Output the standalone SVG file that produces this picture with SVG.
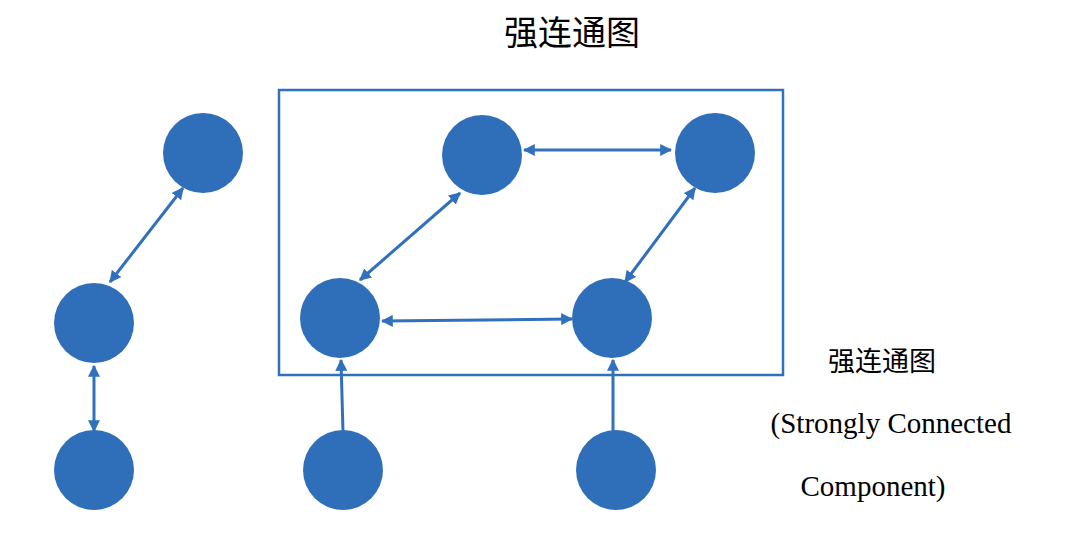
<svg xmlns="http://www.w3.org/2000/svg" width="1080" height="553" viewBox="0 0 1080 553">
<style>
.n{fill:#2f6fba}
.c{stroke:#3070bc;stroke-width:3;fill:none}
.t{font-family:"Liberation Serif","Noto Sans CJK SC",serif;fill:#000;text-anchor:middle}
</style>
<defs>
<marker id="ah" viewBox="0 0 10 10" refX="9" refY="5" markerWidth="4" markerHeight="4" orient="auto-start-reverse"><path d="M0,0L10,5L0,10z" fill="#3070bc"/></marker>
</defs>
<rect width="1080" height="553" fill="#fff"/>
<rect x="279" y="90" width="504" height="285" fill="none" stroke="#3070bc" stroke-width="2.5"/>
<g id="connectors">
<line class="c" x1="183" y1="188" x2="110" y2="282" marker-start="url(#ah)" marker-end="url(#ah)"/>
<line class="c" x1="94" y1="366" x2="94" y2="431" marker-start="url(#ah)" marker-end="url(#ah)"/>
<line class="c" x1="524" y1="150" x2="671" y2="150" marker-start="url(#ah)" marker-end="url(#ah)"/>
<line class="c" x1="460" y1="193" x2="360" y2="280" marker-start="url(#ah)" marker-end="url(#ah)"/>
<line class="c" x1="695" y1="188" x2="625" y2="282" marker-start="url(#ah)" marker-end="url(#ah)"/>
<line class="c" x1="382" y1="321" x2="572" y2="319" marker-start="url(#ah)" marker-end="url(#ah)"/>
<line class="c" x1="343" y1="432" x2="341" y2="360" marker-end="url(#ah)"/>
<line class="c" x1="613" y1="432" x2="613" y2="360" marker-end="url(#ah)"/>
</g>
<g id="A"><circle class="n" cx="203" cy="153" r="40"/></g>
<g id="B"><circle class="n" cx="94" cy="323" r="40"/></g>
<g id="C"><circle class="n" cx="94" cy="470" r="40"/></g>
<g id="D"><circle class="n" cx="482" cy="155" r="40"/></g>
<g id="E"><circle class="n" cx="715" cy="153" r="40"/></g>
<g id="F"><circle class="n" cx="340" cy="318" r="40"/></g>
<g id="G"><circle class="n" cx="612" cy="318" r="40"/></g>
<g id="H"><circle class="n" cx="343" cy="470" r="40"/></g>
<g id="I"><circle class="n" cx="616" cy="470" r="40"/></g>
<text class="t" x="572" y="45" font-size="34">强连通图</text>
<text class="t" x="882" y="371" font-size="27">强连通图</text>
<text class="t" x="891" y="433" font-size="29">(Strongly Connected</text>
<text class="t" x="873" y="496" font-size="29">Component)</text>
</svg>
